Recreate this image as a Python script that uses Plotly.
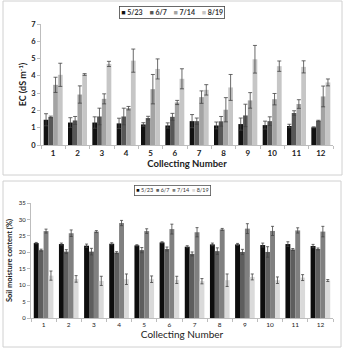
import plotly.graph_objects as go

categories = [str(i) for i in range(1, 13)]
dates = ["5/23", "6/7", "7/14", "8/19"]

# EC (dS m-1)
ec_523 = [1.46, 1.30, 1.30, 1.25, 1.19, 1.13, 1.38, 1.13, 1.21, 1.15, 1.10, 1.02]
ec_67 = [1.62, 1.42, 1.65, 1.65, 1.56, 1.63, 1.38, 1.37, 1.71, 1.38, 1.85, 1.40]
ec_714 = [3.48, 2.92, 2.67, 2.13, 3.23, 2.46, 2.77, 2.04, 2.58, 2.65, 2.37, 2.81]
ec_819 = [4.06, 4.08, 4.69, 4.88, 4.40, 3.83, 3.19, 3.33, 4.96, 4.56, 4.52, 3.62]
ec_err_523 = [0.35, 0.28, 0.33, 0.30, 0.10, 0.15, 0.38, 0.20, 0.35, 0.23, 0.10, 0.03]
ec_err_67 = [0.05, 0.23, 0.48, 0.48, 0.10, 0.20, 0.18, 0.28, 0.65, 0.25, 0.13, 0.03]
ec_err_714 = [0.44, 0.50, 0.29, 0.10, 0.85, 0.12, 0.36, 0.70, 0.45, 0.33, 0.25, 0.60]
ec_err_819 = [0.67, 0.05, 0.15, 0.67, 0.58, 0.58, 0.30, 0.75, 0.80, 0.30, 0.35, 0.20]

# Soil moisture content (%)
sm_523 = [22.8, 22.5, 22.0, 22.6, 22.1, 23.0, 21.7, 22.4, 22.4, 22.2, 22.5, 21.9]
sm_67 = [20.65, 20.2, 20.2, 19.9, 20.65, 21.0, 19.5, 20.35, 20.1, 20.1, 20.85, 21.0]
sm_714 = [26.45, 25.8, 26.3, 28.9, 26.45, 27.06, 26.1, 26.96, 27.2, 26.5, 26.65, 26.3]
sm_819 = [12.9, 11.9, 11.3, 11.8, 11.8, 11.6, 11.2, 11.5, 12.5, 11.5, 12.3, 11.4]
sm_err_523 = [0.2, 0.3, 0.5, 0.3, 0.2, 0.2, 0.3, 0.4, 0.3, 0.6, 0.7, 0.5]
sm_err_67 = [0.3, 0.6, 1.0, 0.3, 0.8, 0.6, 0.6, 1.0, 0.8, 1.6, 0.3, 0.3]
sm_err_714 = [0.6, 1.0, 0.3, 0.8, 0.7, 1.5, 1.4, 0.3, 1.5, 1.4, 0.8, 1.6]
sm_err_819 = [1.4, 1.0, 1.4, 1.6, 1.0, 1.1, 0.8, 1.9, 0.9, 1.0, 0.9, 0.3]

ec_vals = [ec_523, ec_67, ec_714, ec_819]
ec_errs = [ec_err_523, ec_err_67, ec_err_714, ec_err_819]
sm_vals = [sm_523, sm_67, sm_714, sm_819]
sm_errs = [sm_err_523, sm_err_67, sm_err_714, sm_err_819]

ec_colors = ["#111111", "#575757", "#a3a3a3", "#c6c6c6"]
sm_colors = ["#0d0d0d", "#5e5e5e", "#808080", "#dadada"]

FONT = "Lato"
W, H = 346, 348

fig = go.Figure()
for name, v, e, c in zip(dates, ec_vals, ec_errs, ec_colors):
    fig.add_trace(go.Bar(x=categories, y=v, name=name, marker_color=c, marker_line_width=0,
                         error_y=dict(type="data", array=e, color="#444444", thickness=0.8, width=2),
                         xaxis="x", yaxis="y", showlegend=False))
for name, v, e, c in zip(dates, sm_vals, sm_errs, sm_colors):
    fig.add_trace(go.Bar(x=categories, y=v, name=name, marker_color=c, marker_line_width=0,
                         error_y=dict(type="data", array=e, color="#444444", thickness=0.8, width=1.5),
                         xaxis="x2", yaxis="y2", showlegend=False))

def legend_text(colors, gap):
    parts = []
    for d, c in zip(dates, colors):
        parts.append(f"<span style='color:{c}'>■</span> {d}")
    return gap.join(parts)

axis_common = dict(showline=True, linecolor="#bdbdbd", linewidth=1, ticks="outside",
                   tickcolor="#bdbdbd", ticklen=3, showgrid=False, zeroline=False)

fig.update_layout(
    width=W, height=H, margin=dict(l=0, r=0, t=0, b=0, autoexpand=False),
    paper_bgcolor="white", plot_bgcolor="white",
    barmode="group", bargap=0.22, bargroupgap=0,
    font=dict(family=FONT, color="#222222"),
    xaxis=dict(domain=[41 / W, 333 / W], anchor="y", tickson="boundaries",
               tickfont=dict(size=8, family=FONT, weight="bold"),
               title=dict(text="<b>Collecting Number</b>", font=dict(size=9.5), standoff=2),
               **axis_common),
    yaxis=dict(domain=[1 - 145 / H, 1 - 24 / H], anchor="x", range=[0, 7], dtick=1,
               tickfont=dict(size=7.5, family=FONT, weight="bold"),
               title=dict(text="<b>EC (dS m<sup>-1</sup>)</b>", font=dict(size=9), standoff=2),
               **axis_common),
    xaxis2=dict(domain=[31 / W, 333 / W], anchor="y2", tickson="boundaries",
                tickfont=dict(size=6.5, family=FONT),
                title=dict(text="Collecting Number", font=dict(size=10), standoff=2),
                **axis_common),
    yaxis2=dict(domain=[1 - 318 / H, 1 - 203 / H], anchor="x2", range=[0, 35], dtick=5,
                tickfont=dict(size=6, family=FONT),
                title=dict(text="<b>Soil moisture content (%)</b>", font=dict(size=7.5), standoff=5),
                **axis_common),
    annotations=[
        dict(text=legend_text(ec_colors, "&nbsp;&nbsp;&nbsp;&nbsp;"), xref="paper", yref="paper",
             x=172 / W, y=1 - 12.5 / H,
             xanchor="center", yanchor="middle", showarrow=False,
             font=dict(size=7, family=FONT, weight="bold", color="#333"),
             bordercolor="#444", borderwidth=0.8, borderpad=1.5, bgcolor="white"),
        dict(text=legend_text(sm_colors, "&nbsp;&nbsp;"), xref="paper", yref="paper",
             x=172 / W, y=1 - 190 / H,
             xanchor="center", yanchor="middle", showarrow=False,
             font=dict(size=5.5, family=FONT, color="#333"),
             bordercolor="#555", borderwidth=0.8, borderpad=1.5, bgcolor="white"),
    ],
    shapes=[
        dict(type="rect", xref="paper", yref="paper", x0=3 / W, x1=342 / W, y0=1 - 175 / H, y1=1 - 1 / H,
             line=dict(color="#d0d0d0", width=1)),
        dict(type="rect", xref="paper", yref="paper", x0=3 / W, x1=341 / W, y0=1 - 347 / H, y1=1 - 181 / H,
             line=dict(color="#d0d0d0", width=1)),
    ],
)

fig.write_html("out.html")
